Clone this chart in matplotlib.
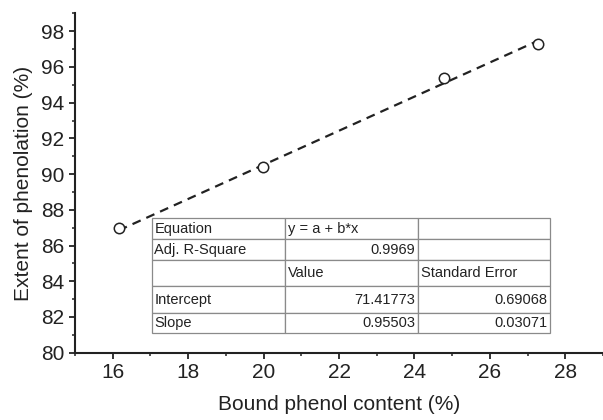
import matplotlib
matplotlib.use("Agg")
import matplotlib.pyplot as plt
from matplotlib.table import Table
from matplotlib.ticker import MultipleLocator

plt.rcParams['font.family'] = ['Liberation Sans', 'DejaVu Sans']

# measured samples
bound_phenol = [16.16, 19.98, 24.79, 27.28]
extent = [86.98, 90.40, 95.39, 97.31]

# linear fit results
intercept = 71.41773
slope = 0.95503
adj_r2 = 0.9969
intercept_err = 0.69068
slope_err = 0.03071

table_rows = [
    ["Equation", "y = a + b*x", ""],
    ["Adj. R-Square", f"{adj_r2:.4f}", ""],
    ["", "Value", "Standard Error"],
    ["Intercept", f"{intercept:.5f}", f"{intercept_err:.5f}"],
    ["Slope", f"{slope:.5f}", f"{slope_err:.5f}"],
]
row_heights = [21, 21, 26, 27, 20]
col_widths = [134, 133, 132]
# alignment of each cell: text columns left, numbers right
cell_align = [
    ["left", "left", "left"],
    ["left", "right", "left"],
    ["left", "left", "left"],
    ["left", "right", "right"],
    ["left", "right", "right"],
]

ink = "#222222"

fig = plt.figure(figsize=(6.03, 4.2), dpi=100)
ax = fig.add_axes([0.1244, 0.1602, 0.8756, 0.808])

# fitted line over the range of the data
x0, x1 = min(bound_phenol), max(bound_phenol)
ax.plot([x0, x1], [intercept + slope * x0, intercept + slope * x1],
        ls=(0, (4, 2.8)), lw=1.6, color=ink, zorder=2)
ax.plot(bound_phenol, extent, 'o', ms=7.5, mfc='white', mec=ink, mew=1.1,
        zorder=3)

ax.set_xlim(15, 29)
ax.set_ylim(80, 99)
ax.xaxis.set_major_locator(MultipleLocator(2))
ax.xaxis.set_minor_locator(MultipleLocator(1))
ax.yaxis.set_major_locator(MultipleLocator(2))
ax.yaxis.set_minor_locator(MultipleLocator(1))

for side in ['top', 'right']:
    ax.spines[side].set_visible(False)
for side in ['left', 'bottom']:
    ax.spines[side].set_linewidth(1.5)
    ax.spines[side].set_color(ink)

ax.tick_params(which='major', length=4.5, width=1.3, color=ink,
               labelsize=15, labelcolor=ink, pad=3)
ax.tick_params(which='minor', length=2.5, width=1.1, color=ink)

ax.set_xlabel("Bound phenol content (%)", fontsize=15, color=ink, labelpad=9)
ax.set_ylabel("Extent of phenolation (%)", fontsize=15, color=ink, labelpad=6)

# fit summary table
tbl = Table(ax, bbox=[0.1453, 0.0572, 0.7544, 0.3388])
for r, row in enumerate(table_rows):
    for c, txt in enumerate(row):
        cell = tbl.add_cell(r, c, width=col_widths[c], height=row_heights[r],
                            text=txt, loc=cell_align[r][c],
                            edgecolor="#8a8a8a", facecolor="white")
        cell.PAD = 0.02
        cell.set_linewidth(0.9)
        cell.get_text().set_color(ink)
tbl.auto_set_font_size(False)
tbl.set_fontsize(10.5)
tbl.set_zorder(4)
ax.add_table(tbl)

fig.savefig("out.png", dpi=100)
